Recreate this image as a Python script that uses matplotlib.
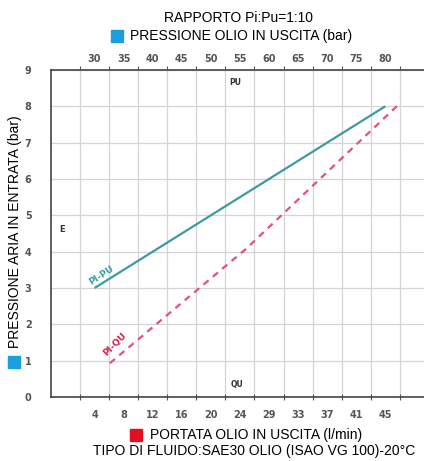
import numpy as np
import matplotlib
matplotlib.use("Agg")
import matplotlib.pyplot as plt
from matplotlib.patches import Rectangle

plt.rcParams['font.family'] = ['Liberation Sans', 'DejaVu Sans']

# tick labels
flow_labels = [4, 8, 12, 16, 20, 24, 29, 33, 37, 41, 45]      # l/min (bottom)
pu_labels = [30, 35, 40, 45, 50, 55, 60, 65, 70, 75, 80]       # bar (top)
pi_ticks = [0, 1, 2, 3, 4, 5, 6, 7, 8, 9]                      # bar (left)

# PI-PU curve (outlet oil pressure vs inlet air pressure)
pu_vals = [30, 80]
pu_pi = [3.0, 8.0]

# PI-QU curve (outlet oil flow vs inlet air pressure)
qu_vals = [6.1, 25.0, 47.1]
qu_pi = [0.93, 4.07, 8.1]

TEAL = "#3a9ca3"
PINK = "#e8507a"


def to_pos(v, labels):
    # label i sits half way between grid lines i+1 and i+2
    pos = np.arange(len(labels)) + 1.5
    v = np.asarray(v, float)
    out = np.interp(v, labels, pos)
    lo = v < labels[0]
    hi = v > labels[-1]
    out[lo] = pos[0] + (v[lo] - labels[0]) / (labels[1] - labels[0])
    out[hi] = pos[-1] + (v[hi] - labels[-1]) / (labels[-1] - labels[-2])
    return out


fig = plt.figure(figsize=(4.24, 4.61), dpi=100)
ax = fig.add_axes([51 / 424, 1 - 397 / 461, 1 - 51 / 424 + 0.002, (397 - 70) / 461])

xmax = (424 - 51) / 29.0
ax.set_xlim(0, xmax)
ax.set_ylim(0, 9)

# grid
grid_x = np.arange(1, int(xmax) + 1)
ax.set_xticks(grid_x)
ax.set_xticklabels([])
ax.set_xticks(np.arange(len(flow_labels)) + 1.5, minor=True)
ax.set_xticklabels([str(v) for v in flow_labels], minor=True)
ax.set_yticks(pi_ticks)
ax.set_yticklabels([str(v) for v in pi_ticks])
ax.grid(True, which='major', color="#d4d4d4", lw=0.9)
ax.set_axisbelow(True)

ax.tick_params(axis='x', which='major', direction='inout', length=4, width=0.8, color="#555555")
ax.tick_params(axis='x', which='minor', length=0, pad=9, labelsize=7, labelcolor="#555555")
ax.tick_params(axis='y', length=0, pad=14, labelsize=7, labelcolor="#555555")
for lab in ax.get_xticklabels(minor=True) + ax.get_yticklabels():
    lab.set_fontweight('bold')
    lab.set_family('DejaVu Sans')

for s in ['left', 'bottom', 'top']:
    ax.spines[s].set_color("#444444")
    ax.spines[s].set_linewidth(1.2)
ax.spines['right'].set_visible(False)

# top axis
top = ax.twiny()
top.set_xlim(ax.get_xlim())
top.set_xticks(grid_x)
top.set_xticklabels([])
top.set_xticks(np.arange(len(pu_labels)) + 1.5, minor=True)
top.set_xticklabels([str(v) for v in pu_labels], minor=True)
top.tick_params(axis='x', which='major', direction='out', length=3, width=0.8, color="#555555")
top.tick_params(axis='x', which='minor', length=0, pad=4, labelsize=7, labelcolor="#555555")
for lab in top.get_xticklabels(minor=True):
    lab.set_fontweight('bold')
    lab.set_family('DejaVu Sans')
for s in top.spines.values():
    s.set_visible(False)

# curves
ax.plot(to_pos(pu_vals, pu_labels), pu_pi, color=TEAL, lw=1.6, solid_capstyle='butt')
ax.plot(to_pos(qu_vals, flow_labels), qu_pi, color=PINK, lw=1.6, ls=(0, (3, 2.5)))

ax.text(1.72, 3.35, "PI-PU", color=TEAL, fontsize=6.5, fontweight='bold',
        rotation=33, ha='center', va='center', family='DejaVu Sans')
ax.text(2.2, 1.45, "PI-QU", color="#d8204a", fontsize=6.5, fontweight='bold',
        rotation=45, ha='center', va='center', family='DejaVu Sans')
ax.text(6.35, 8.65, "PU", color="#333333", fontsize=5.5, fontweight='bold',
        ha='center', va='center', family='DejaVu Sans')
ax.text(6.4, 0.35, "QU", color="#333333", fontsize=5.5, fontweight='bold',
        ha='center', va='center', family='DejaVu Sans')
ax.text(0.38, 4.6, "E", color="#333333", fontsize=6, fontweight='bold',
        ha='center', va='center', family='DejaVu Sans')

# titles and axis captions
FS = 10
fig.text(238 / 424, 1 - 18 / 461, "RAPPORTO Pi:Pu=1:10", ha='center', va='center', fontsize=FS)
fig.text(130 / 424, 1 - 36 / 461, "PRESSIONE OLIO IN USCITA (bar)", ha='left', va='center', fontsize=FS)
fig.patches.append(Rectangle((111 / 424, 1 - 42 / 461), 12 / 424, 12 / 461,
                             transform=fig.transFigure, color="#1a9ee0", figure=fig))

fig.text(15 / 424, 1 - 232 / 461, "PRESSIONE ARIA IN ENTRATA (bar)", rotation=90,
         ha='center', va='center', fontsize=FS)
fig.patches.append(Rectangle((8 / 424, 1 - 368 / 461), 12 / 424, 12 / 461,
                             transform=fig.transFigure, color="#1a9ee0", figure=fig))

fig.text(150 / 424, 1 - 435 / 461, "PORTATA OLIO IN USCITA (l/min)", ha='left', va='center', fontsize=FS)
fig.patches.append(Rectangle((130 / 424, 1 - 441 / 461), 12 / 424, 12 / 461,
                             transform=fig.transFigure, color="#e01020", figure=fig))
fig.text(254 / 424, 1 - 451 / 461, "TIPO DI FLUIDO:SAE30 OLIO (ISAO VG 100)-20°C",
         ha='center', va='center', fontsize=FS)

fig.savefig("out.png", dpi=100)
